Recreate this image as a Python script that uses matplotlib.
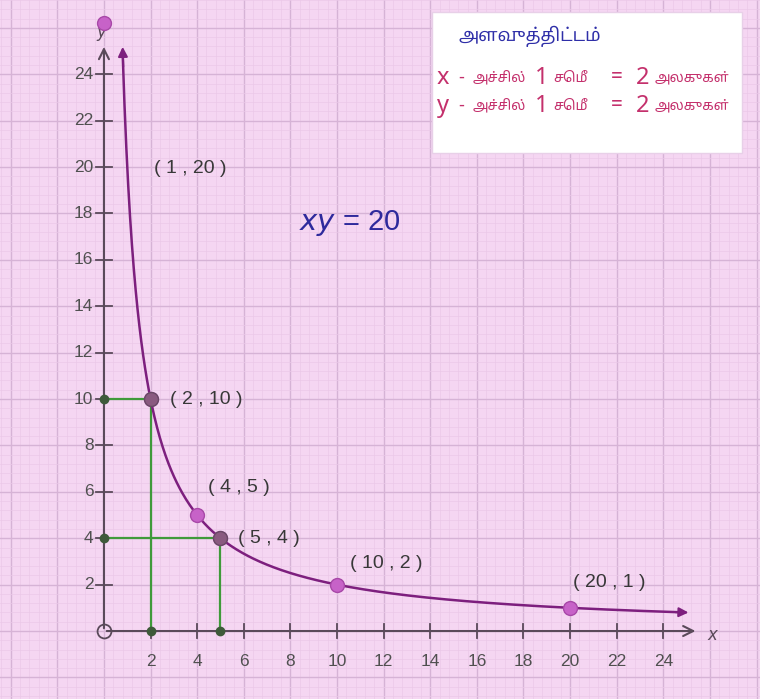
import numpy as np
import matplotlib.pyplot as plt
from matplotlib.ticker import MultipleLocator
from matplotlib.patches import Rectangle

# data
k = 20
points_x = [2, 4, 5, 10, 20]
points_y = [10, 5, 4, 2, 1]
point_labels = ['( 2 , 10 )', '( 4 , 5 )', '( 5 , 4 )', '( 10 , 2 )', '( 20 , 1 )']
label_x = [2.85, 4.45, 5.75, 12.1, 21.7]
label_y = [10, 6.2, 4.0, 2.9, 2.1]
first_label = '( 1 , 20 )'
stray_point = (0, 26.2)
dark_points = [(2, 10), (5, 4)]
guide_points = [(2, 10), (5, 4)]
xticks = [2, 4, 6, 8, 10, 12, 14, 16, 18, 20, 22, 24]
yticks = [2, 4, 6, 8, 10, 12, 14, 16, 18, 20, 22, 24]

tamil = ['Noto Sans Tamil', 'Lohit Tamil', 'Noto Serif Tamil', 'DejaVu Sans']

fig = plt.figure(figsize=(7.6, 6.99), dpi=100)
fig.patch.set_facecolor('#f5d6f2')
ax = fig.add_axes([0, 0, 1, 1])
ax.set_facecolor('#f5d6f2')
ax.set_xlim(-4.46, 28.15)
ax.set_ylim(-2.93, 27.2)

# graph paper
ax.xaxis.set_major_locator(MultipleLocator(2))
ax.yaxis.set_major_locator(MultipleLocator(2))
ax.xaxis.set_minor_locator(MultipleLocator(0.4))
ax.yaxis.set_minor_locator(MultipleLocator(0.4))
ax.grid(which='minor', color='#ebc8e8', lw=0.5)
ax.grid(which='major', color='#d6b3d6', lw=1.0)
ax.tick_params(which='both', length=0, labelbottom=False, labelleft=False)
for s in ax.spines.values():
    s.set_visible(False)
ax.set_axisbelow(True)

axc = '#5a4a5a'
# axes with open arrow heads
ax.annotate('', xy=(25.5, 0), xytext=(0, 0),
            arrowprops=dict(arrowstyle='->', color=axc, lw=1.5, mutation_scale=18))
ax.annotate('', xy=(0, 25.3), xytext=(0, 0),
            arrowprops=dict(arrowstyle='->', color=axc, lw=1.5, mutation_scale=18))
ax.text(25.9, -0.15, 'x', fontsize=12, style='italic', color=axc, va='center')
ax.text(-0.1, 25.6, 'y', fontsize=12, style='italic', color=axc, ha='center')
ax.plot(0, 0, 'o', ms=10, mfc='none', mec=axc, mew=1.3)

for t in xticks:
    ax.plot([t, t], [-0.3, 0.3], color=axc, lw=1.3)
    ax.text(t, -1.3, str(t), ha='center', va='center', fontsize=12.5,
            color='#505050', family='Liberation Sans')
for t in yticks:
    ax.plot([-0.35, 0.35], [t, t], color=axc, lw=1.3)
    ax.text(-0.45, t, str(t), ha='right', va='center', fontsize=12.5,
            color='#505050', family='Liberation Sans')

# green guide lines
for gx, gy in guide_points:
    ax.plot([0, gx, gx], [gy, gy, 0], color='#3f9a3a', lw=1.6, zorder=3)
    ax.plot([0, gx], [gy, 0], 'o', ms=6, color='#3e5a3a', zorder=4)

# curve xy = 20
cx = np.linspace(0.8, 24.8, 600)
ax.plot(cx, k / cx, color='#7d1f7e', lw=1.8, zorder=5)
ax.annotate('', xy=(25.2, k / 25.2), xytext=(24.4, k / 24.4),
            arrowprops=dict(arrowstyle='-|>', color='#7d1f7e', lw=1.5, mutation_scale=14))
ax.annotate('', xy=(0.8, 25.3), xytext=(0.83, 24.2),
            arrowprops=dict(arrowstyle='-|>', color='#7d1f7e', lw=1.5, mutation_scale=14))

ax.plot(points_x, points_y, 'o', ms=10, color='#c762c8', mec='#a848a8', zorder=6)
ax.plot(*stray_point, 'o', ms=10, color='#c762c8', mec='#a848a8', zorder=6, clip_on=False)
for dx, dy in dark_points:
    ax.plot(dx, dy, 'o', ms=10, color='#8a5a80', mec='#6a4a66', zorder=7)

for lx, ly, lab in zip(label_x, label_y, point_labels):
    ha = 'left' if lx < 8 else 'center'
    ax.text(lx, ly, lab, ha=ha, va='center', fontsize=14, color='#383838',
            family='Liberation Sans')
ax.text(3.7, 19.95, first_label, ha='center', va='center', fontsize=14,
        color='#383838', family='Liberation Sans')

ax.text(10.55, 17.6, r'$xy$ = 20', ha='center', va='center', fontsize=21,
        color='#2e2a9c', family='Liberation Sans')

# scale box
fig.patches.append(Rectangle((432 / 760, 1 - 153 / 699), 310 / 760, 141 / 699,
                             transform=fig.transFigure, facecolor='white',
                             edgecolor='#e8d0e8', lw=1, zorder=10))
fig.text(530 / 760, 1 - 36 / 699, 'அளவுத்திட்டம்', ha='center', va='center',
         fontsize=13, weight='bold', color='#2f2fa8', family=tamil, zorder=11)
red = '#c4306c'
for row, (axis_name, py) in enumerate([('x', 78), ('y', 106)]):
    yy = 1 - py / 699
    parts = [(axis_name, 437, 17, 'normal'), ('-', 458, 13, 'bold'),
             ('அச்சில்', 473, 10, 'bold'), ('1', 535, 17, 'bold'),
             ('செமீ', 553, 10, 'bold'), ('=', 611, 15, 'bold'),
             ('2', 636, 17, 'bold'), ('அலகுகள்', 655, 10, 'bold')]
    for txt, px, fs, wt in parts:
        fig.text(px / 760, yy, txt, ha='left', va='center', fontsize=fs,
                 weight=wt, color=red, family=tamil, zorder=11)

fig.savefig('out.png', dpi=100, facecolor=fig.get_facecolor())
